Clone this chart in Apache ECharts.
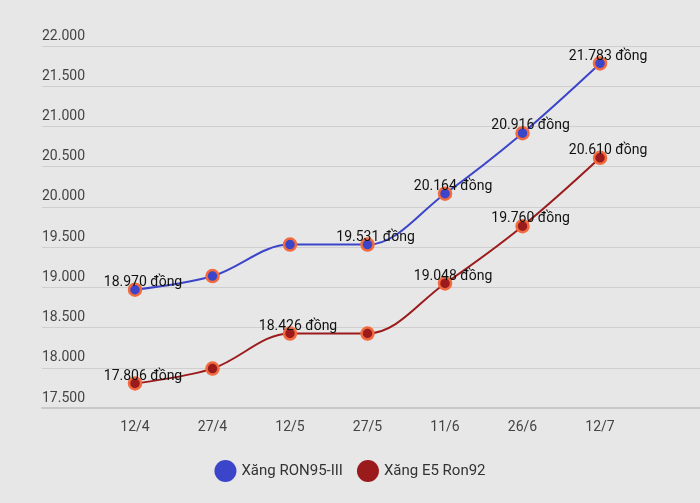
<!DOCTYPE html>
<html>
<head>
<meta charset="utf-8">
<script src="https://cdn.jsdelivr.net/npm/echarts@6/dist/echarts.min.js"></script>
<style>
  html, body { margin: 0; padding: 0; background: #e7e7e7; }
  #chart { width: 700px; height: 503px; }
</style>
</head>
<body>
<div id="chart"></div>
<script>
// dữ liệu giá xăng
const dates = ['12/4', '27/4', '12/5', '27/5', '11/6', '26/6', '12/7'];
const ron95 = [18970, 19140, 19531, 19531, 20164, 20916, 21783];
const e5 = [17806, 17990, 18426, 18426, 19048, 19760, 20610];
// điểm nào có nhãn
const ron95Labels = [true, false, false, true, true, true, true];
const e5Labels = [true, false, true, false, true, true, true];

const fmt = v => String(v).replace(/\B(?=(\d{3})+(?!\d))/g, '.');

function toData(vals, flags) {
  return vals.map((v, i) => ({
    value: [i, v],
    label: { show: flags[i] }
  }));
}

const chart = echarts.init(document.getElementById('chart'));
chart.setOption({
  backgroundColor: '#e7e7e7',
  animation: false,
  grid: { left: 42, right: 0, top: 46, bottom: 95 },
  legend: {
    bottom: 16,
    left: 'center',
    icon: 'circle',
    itemWidth: 22,
    itemHeight: 22,
    itemGap: 14,
    textStyle: { fontFamily: 'Roboto', fontSize: 15, color: '#333' },
    data: [
      { name: 'Xăng RON95-III', itemStyle: { borderWidth: 0 } },
      { name: 'Xăng E5 Ron92', itemStyle: { borderWidth: 0 } }
    ]
  },
  xAxis: {
    type: 'value',
    min: -1.2,
    max: 7.29,
    axisLine: { show: true, lineStyle: { color: '#c8c8c8', width: 2 } },
    axisTick: { show: false },
    splitLine: { show: false },
    axisLabel: {
      customValues: [0, 1, 2, 3, 4, 5, 6],
      formatter: v => dates[Math.round(v)],
      margin: 12,
      fontFamily: 'Roboto', fontSize: 14, color: '#444'
    }
  },
  yAxis: {
    type: 'value',
    min: 17500,
    max: 22000,
    interval: 500,
    axisLine: { show: false },
    axisTick: { show: false },
    splitLine: { lineStyle: { color: '#cfcfcf', width: 1 } },
    axisLabel: {
      inside: true,
      verticalAlign: 'bottom',
      margin: 0,
      padding: [0, 0, 3, 0],
      formatter: fmt,
      fontFamily: 'Roboto', fontSize: 14, color: '#444'
    }
  },
  series: [
    {
      name: 'Xăng RON95-III',
      type: 'line',
      smooth: 0.35,
      data: toData(ron95, ron95Labels),
      color: '#3b45c9',
      lineStyle: { width: 2, color: '#3b45c9' },
      symbol: 'circle',
      symbolSize: 12,
      itemStyle: { color: '#3b45c9', borderColor: '#f26a3d', borderWidth: 2.5 },
      label: {
        position: 'top', distance: 2, offset: [8, 9],
        fontFamily: 'Roboto', fontSize: 14, color: '#111',
        formatter: p => fmt(p.value[1]) + ' đồng'
      }
    },
    {
      name: 'Xăng E5 Ron92',
      type: 'line',
      smooth: 0.35,
      data: toData(e5, e5Labels),
      color: '#9b1b1d',
      lineStyle: { width: 2, color: '#9b1b1d' },
      symbol: 'circle',
      symbolSize: 12,
      itemStyle: { color: '#9b1b1d', borderColor: '#f26a3d', borderWidth: 2.5 },
      label: {
        position: 'top', distance: 2, offset: [8, 9],
        fontFamily: 'Roboto', fontSize: 14, color: '#111',
        formatter: p => fmt(p.value[1]) + ' đồng'
      }
    }
  ]
});
</script>
</body>
</html>
